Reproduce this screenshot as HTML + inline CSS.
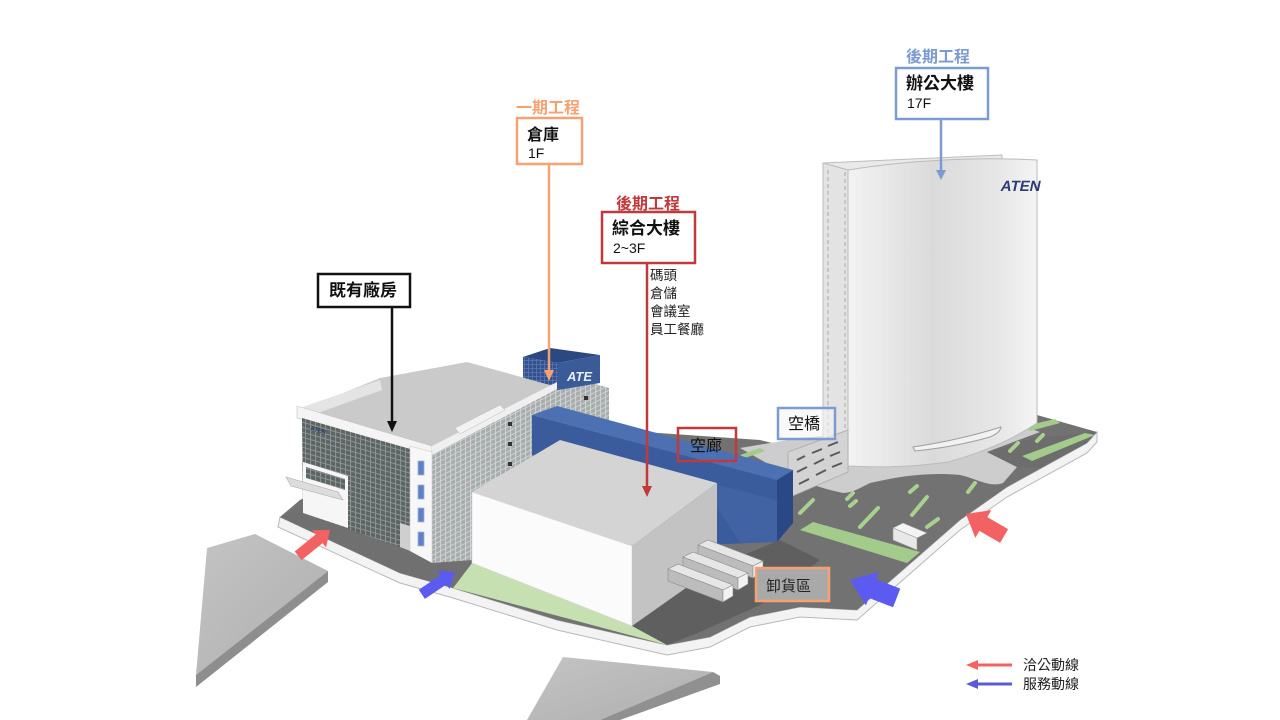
<!DOCTYPE html>
<html><head><meta charset="utf-8">
<style>
html,body{margin:0;padding:0;background:#fff;}
svg{display:block;}
text{font-family:"Liberation Sans","Noto Sans CJK TC",sans-serif;}
</style></head><body>
<svg width="1280" height="720" viewBox="0 0 1280 720" xmlns="http://www.w3.org/2000/svg">
<defs>
 <pattern id="gridDark" width="5" height="5" patternUnits="userSpaceOnUse" patternTransform="skewY(16)">
  <rect width="5" height="5" fill="#5d6464"/>
  <path d="M0 0.5H5M0.5 0V5" stroke="#8c9494" stroke-width="1"/>
 </pattern>
 <pattern id="gridLight" width="5" height="5" patternUnits="userSpaceOnUse" patternTransform="skewY(-27)">
  <rect width="5" height="5" fill="#a7acac"/>
  <path d="M0 0.5H5M0.5 0V5" stroke="#cfd3d3" stroke-width="1"/>
 </pattern>
 <pattern id="gridBlue" width="4" height="4" patternUnits="userSpaceOnUse">
  <rect width="4" height="4" fill="#33518c"/>
  <path d="M0 0.5H4M0.5 0V4" stroke="#5a78b3" stroke-width="0.8"/>
 </pattern>
 <linearGradient id="towerG" x1="0" x2="1" y1="0" y2="0">
  <stop offset="0" stop-color="#f3f3f3"/>
  <stop offset="0.45" stop-color="#dadada"/>
  <stop offset="0.8" stop-color="#e7e7e7"/>
  <stop offset="1" stop-color="#f4f4f4"/>
 </linearGradient>
 <linearGradient id="slabG" x1="0" x2="1" y1="0" y2="1">
  <stop offset="0" stop-color="#c4c4c4"/>
  <stop offset="1" stop-color="#aeaeae"/>
 </linearGradient>
</defs>

<!-- lower-left slab -->
<polygon points="207,548 255,534 328,571 196,675" fill="url(#slabG)"/>
<polygon points="328,571 328,582 196,687 196,675" fill="#8e8e8e"/>
<!-- bottom slab -->
<polygon points="563,657 713,672 600,720 527,720" fill="url(#slabG)"/>
<polygon points="713,672 720,676 720,684 620,720 600,720" fill="#909090"/>

<!-- curb -->
<polygon points="280,517 400,573 453,588 557,620 667,645 710,637 750,617 800,607 857,610 960,520 1007,487 1087,443 1097,432 1097,442 1087,453 1007,497 960,530 857,620 800,617 750,627 710,647 667,655 557,630 453,598 400,583 278,527" fill="#f3f3f3" stroke="#b8b8b8" stroke-width="1"/>
<!-- platform surface -->
<polygon points="280,517 300,500 470,420 760,440 800,450 1030,413 1097,432 1087,443 1007,487 960,520 857,610 800,607 750,617 710,637 667,645 557,620 453,588 400,573" fill="#727272"/>
<!-- shadow near dock -->
<polygon points="632,626 717,566 780,540 820,560 760,605 700,632 667,645" fill="#5f5f5f"/>
<!-- green strip left -->
<polygon points="472,563 632,626 667,645 453,588" fill="#c6e0b2"/>
<!-- light plaza around tower -->
<path d="M740,448 L800,438 L1000,418 L1040,432 L987,452 L1017,467 L1003,483 C990,488 975,478 960,475 C930,472 900,476 870,483 C860,488 852,493 843,493 C820,488 805,482 793,478 Z" fill="#cdcdcd"/>
<polygon points="987,452 1035,438 1095,432 1085,444 1040,468 1017,467" fill="#6d6d6d"/>
<!-- green marks -->
<polygon points="800,530 813,522 920,552 907,563" fill="#a3cc8c"/>
<polygon points="1022,456 1085,433 1095,435 1032,461" fill="#a3cc8c"/>
<polygon points="1025,426 1055,419 1060,423 1030,431" fill="#a3cc8c"/>
<polygon points="740,455 760,448 765,451 745,458" fill="#a3cc8c"/>
<g stroke="#a8d08f" stroke-width="4" stroke-linecap="round">
 <line x1="800" y1="513" x2="813" y2="500"/>
 <line x1="860" y1="527" x2="878" y2="508"/>
 <line x1="912" y1="515" x2="927" y2="497"/>
 <line x1="847" y1="499" x2="853" y2="493"/>
 <line x1="850" y1="506" x2="856" y2="501"/>
 <line x1="910" y1="492" x2="917" y2="486"/>
 <line x1="968" y1="492" x2="975" y2="483"/>
 <line x1="927" y1="527" x2="938" y2="519"/>
 <line x1="1010" y1="451" x2="1018" y2="443"/>
 <line x1="1037" y1="441" x2="1043" y2="435"/>
</g>

<!-- tower -->
<polygon points="823,163 1002,155 1002,162 848,170" fill="#e9e9e9" stroke="#bdbdbd" stroke-width="1"/>
<polygon points="823,163 848,170 848,466 823,456" fill="#e3e3e3" stroke="#bdbdbd" stroke-width="1"/>
<line x1="828" y1="170" x2="828" y2="455" stroke="#aaa" stroke-width="1" stroke-dasharray="4,3"/>
<line x1="845" y1="172" x2="845" y2="462" stroke="#aaa" stroke-width="1" stroke-dasharray="4,3"/>
<path d="M848,170 Q942,155 1037,160 L1037,423 Q1000,448 948,462 Q900,469 848,466 Z" fill="url(#towerG)" stroke="#bbbbbb" stroke-width="1"/>
<path d="M913,447 Q960,440 1001,427 Q1000,433 990,437 Q955,447 915,451 Z" fill="#f2f2f2" stroke="#9f9f9f" stroke-width="1"/>
<g transform="translate(1000,191) skewX(-12)">
 <text x="0" y="0" font-size="15" font-weight="bold" fill="#2b3d73" font-family="Liberation Sans, sans-serif">ATEN</text>
</g>

<!-- sky bridge -->
<polygon points="788,452 848,430 848,472 788,498" fill="#d3d3d3" stroke="#aaa" stroke-width="0.8"/>
<g stroke="#5a5a5a" stroke-width="2">
 <line x1="797" y1="460" x2="805" y2="456"/><line x1="812" y1="453" x2="822" y2="449"/><line x1="828" y1="446" x2="838" y2="442"/>
 <line x1="797" y1="472" x2="807" y2="467"/><line x1="814" y1="464" x2="824" y2="459"/><line x1="830" y1="456" x2="840" y2="452"/>
 <line x1="799" y1="484" x2="809" y2="479"/><line x1="816" y1="475" x2="826" y2="470"/><line x1="832" y1="467" x2="842" y2="463"/>
</g>

<!-- grid block under blue tower -->
<polygon points="556,385 575,378 609,388 609,440 556,452" fill="url(#gridLight)"/>
<rect x="584" y="396" width="4" height="4" fill="#333"/>
<!-- blue tower -->
<polygon points="523,357 550,348 600,355 558,363" fill="#2c4880"/>
<polygon points="523,357 558,363 558,390 523,383" fill="url(#gridBlue)"/>
<polygon points="558,363 600,355 600,383 558,390" fill="#3a5a98"/>
<text x="567" y="381" font-size="13" font-weight="bold" fill="#e8eef8" font-style="italic" font-family="Liberation Sans, sans-serif">ATE</text>

<!-- factory -->
<polygon points="297,412 380,378 467,362 557,387 432,452" fill="#cacaca"/>
<polygon points="300,408 380,380 382,390 304,418" fill="#e4e4e4"/>
<polygon points="297,406 432,446 432,455 297,418" fill="#f4f4f4" stroke="#c0c0c0" stroke-width="0.6"/>
<polygon points="432,446 557,382 557,389 432,455" fill="#efefef"/>
<polygon points="455,428 500,405 505,410 460,434" fill="#f2f2f2" stroke="#bbb" stroke-width="0.5"/>
<polygon points="520,417 550,402 555,408 525,422" fill="#f2f2f2" stroke="#bbb" stroke-width="0.5"/>
<!-- right face -->
<polygon points="432,455 557,389 557,530 472,560 432,563" fill="url(#gridLight)"/>
<rect x="508" y="422" width="4" height="4" fill="#333"/>
<rect x="508" y="442" width="4" height="4" fill="#333"/>
<rect x="508" y="462" width="4" height="4" fill="#333"/>
<!-- left face -->
<polygon points="302,418 410,449 410,551 303,513" fill="url(#gridDark)"/>
<text x="310" y="430" font-size="6" font-weight="bold" fill="#2b3d73" transform="rotate(15 310 430)">ATEN</text>
<polygon points="303,462 348,476 348,528 303,513" fill="#f6f6f6"/>
<polygon points="306,467 345,479 345,490 306,478" fill="url(#gridDark)"/>
<polygon points="286,477 338,492 343,500 291,486" fill="#dcdcdc" stroke="#aaa" stroke-width="0.6"/>
<polygon points="400,523 410,526 410,551 400,547" fill="#cfcfcf"/>
<!-- white pillar -->
<polygon points="410,446 432,452 432,563 410,552" fill="#f7f7f7" stroke="#cccccc" stroke-width="0.6"/>
<g fill="#5f7fc6" stroke="#9fb2d8" stroke-width="0.8">
 <rect x="418" y="461" width="6" height="14"/>
 <rect x="418" y="485" width="6" height="14"/>
 <rect x="418" y="508" width="6" height="14"/>
 <rect x="418" y="532" width="6" height="14"/>
</g>
<!-- dark strip in front of factory -->
<polygon points="280,517 303,508 303,513 410,551 432,563 472,563 453,588 400,573" fill="#707070"/>

<!-- blue corridor -->
<polygon points="532,415 777,480 777,542 700,545 532,455" fill="#3a5b9c"/>
<polygon points="532,415 557,406 793,470 777,480" fill="#4d70b2"/>
<polygon points="777,480 793,470 793,523 777,542" fill="#2a4885"/>
<polygon points="700,480 777,500 777,542 740,543" fill="#4466a8" opacity="0.7"/>

<!-- warehouse -->
<polygon points="472,492 560,440 717,483 632,546" fill="#d4d4d4"/>
<polygon points="472,492 632,546 632,626 472,563" fill="#fbfbfb" stroke="#d6d6d6" stroke-width="0.6"/>
<polygon points="632,546 717,483 717,566 632,626" fill="#c3c3c3"/>

<!-- trucks -->
<g stroke="#8a8a8a" stroke-width="0.6">
 <polygon points="698,545 708,540 763,561 753,566" fill="#e6e6e6"/>
 <polygon points="698,545 753,566 753,578 698,557" fill="#bcbcbc"/>
 <polygon points="753,566 763,561 763,572 753,578" fill="#f2f2f2"/>
 <polygon points="683,557 693,552 748,573 738,578" fill="#e6e6e6"/>
 <polygon points="683,557 738,578 738,590 683,569" fill="#bcbcbc"/>
 <polygon points="738,578 748,573 748,584 738,590" fill="#f2f2f2"/>
 <polygon points="668,569 678,564 733,585 723,590" fill="#e6e6e6"/>
 <polygon points="668,569 723,590 723,602 668,581" fill="#bcbcbc"/>
 <polygon points="723,590 733,585 733,596 723,602" fill="#f2f2f2"/>
</g>
<polygon points="893,528 903,523 927,533 917,538" fill="#f4f4f4" stroke="#999" stroke-width="0.6"/>
<polygon points="893,528 917,538 917,550 893,540" fill="#e8e8e8" stroke="#999" stroke-width="0.6"/>

<!-- flow arrows -->
<g transform="translate(330,530) rotate(-39)"><polygon points="0,0 -14,-11 -14,-5.5 -41,-5.5 -41,5.5 -14,5.5 -14,11" fill="#f26262"/></g>
<g transform="translate(455,572) rotate(-34)"><polygon points="0,0 -14,-11 -14,-5.5 -40,-5.5 -40,5.5 -14,5.5 -14,11" fill="#5b5bf2"/></g>
<g transform="translate(966,514) rotate(210)"><polygon points="0,0 -20,-16 -20,-8 -44,-8 -44,8 -20,8 -20,16" fill="#f26262"/></g>
<g transform="translate(850,580) rotate(201)"><polygon points="0,0 -24,-18 -24,-10 -50,-10 -50,10 -24,10 -24,18" fill="#5b5bf2"/></g>

<!-- label lines -->
<line x1="941" y1="119" x2="941" y2="172" stroke="#7b9bd1" stroke-width="2.5"/>
<polygon points="936,170 946,170 941,180" fill="#7b9bd1"/>
<line x1="549" y1="164" x2="549" y2="372" stroke="#f5a173" stroke-width="2.5"/>
<polygon points="544,370 554,370 549,381" fill="#f5a173"/>
<line x1="647" y1="263" x2="647" y2="488" stroke="#c0393b" stroke-width="2.5"/>
<polygon points="642,486 652,486 647,497" fill="#c0393b"/>
<line x1="392" y1="307" x2="392" y2="423" stroke="#111" stroke-width="2.5"/>
<polygon points="387,421 397,421 392,432" fill="#111"/>

<!-- label boxes -->
<text x="906" y="62" font-size="16" font-weight="bold" fill="#7b9bd1">後期工程</text>
<rect x="896" y="68" width="92" height="51" fill="#fff" stroke="#7b9bd1" stroke-width="2.5"/>
<text x="906" y="89" font-size="17" font-weight="bold" fill="#111">辦公大樓</text>
<text x="907" y="108" font-size="14" fill="#111">17F</text>

<text x="516" y="113" font-size="16" font-weight="bold" fill="#f5a173">一期工程</text>
<rect x="517" y="118" width="65" height="46" fill="#fff" stroke="#f5a173" stroke-width="2.5"/>
<text x="527" y="140" font-size="16" font-weight="bold" fill="#111">倉庫</text>
<text x="528" y="158" font-size="14" fill="#111">1F</text>

<text x="616" y="209" font-size="16" font-weight="bold" fill="#c0393b">後期工程</text>
<rect x="602" y="212" width="93" height="51" fill="#fff" stroke="#c0393b" stroke-width="2.5"/>
<text x="612" y="234" font-size="17" font-weight="bold" fill="#111">綜合大樓</text>
<text x="613" y="253" font-size="14" fill="#111">2~3F</text>
<g font-size="13.5" fill="#222">
 <text x="650" y="280">碼頭</text>
 <text x="650" y="298">倉儲</text>
 <text x="650" y="316">會議室</text>
 <text x="650" y="334">員工餐廳</text>
</g>

<rect x="318" y="274" width="92" height="33" fill="#fff" stroke="#111" stroke-width="2.5"/>
<text x="329" y="296" font-size="17" font-weight="bold" fill="#111">既有廠房</text>

<rect x="678" y="428" width="58" height="33" fill="none" stroke="#c0393b" stroke-width="2.5"/>
<text x="690" y="451" font-size="16" fill="#111">空廊</text>

<rect x="778" y="408" width="57" height="31" fill="rgba(245,245,245,0.6)" stroke="#7b9bd1" stroke-width="2.5"/>
<text x="788" y="429" font-size="16" fill="#111">空橋</text>

<rect x="756" y="568" width="73" height="33" fill="#a9a9a9" stroke="#f5a173" stroke-width="2.5"/>
<text x="766" y="591" font-size="15" fill="#222">卸貨區</text>

<!-- legend -->
<line x1="976" y1="665" x2="1012" y2="665" stroke="#f26262" stroke-width="3"/>
<polygon points="966,665 978,660 978,670" fill="#f26262"/>
<line x1="976" y1="684" x2="1012" y2="684" stroke="#5b5bd8" stroke-width="3"/>
<polygon points="966,684 978,679 978,689" fill="#5b5bd8"/>
<text x="1023" y="670" font-size="14" fill="#222">洽公動線</text>
<text x="1023" y="689" font-size="14" fill="#222">服務動線</text>
</svg>
</body></html>
